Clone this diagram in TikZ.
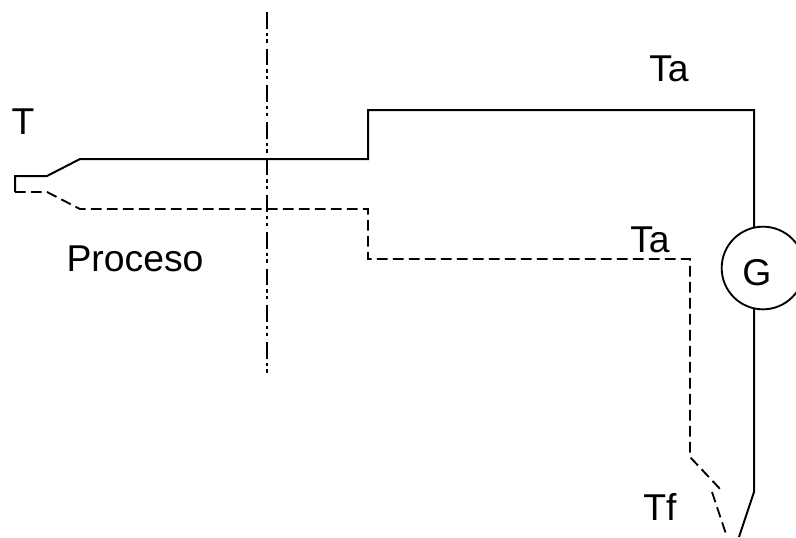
\documentclass[tikz,border=0pt]{standalone}
\usepackage{fontspec}
\setmainfont{Liberation Sans}
\usetikzlibrary{positioning}

\begin{document}
\begin{tikzpicture}[
x=0.75pt, y=-0.75pt,
wire/.style={draw=black, line width=1.5pt, line join=miter},
return/.style={draw=black, line width=1.4pt, dash pattern=on 8pt off 4pt},
axisline/.style={draw=black, line width=1.5pt, dash pattern=on 12.5pt off 3pt on 2.5pt off 2.5pt on 2.5pt off 4.5pt},
label/.style={font=\fontsize{28}{32}\selectfont, inner sep=0pt, text=black},
gauge/.style={circle, draw=black, line width=1.4pt, minimum size=62pt, inner sep=0pt}
]
\useasboundingbox (0,0) rectangle (796,537);

\node[gauge](g_meter) at (763,268){};

\node[label](g_text) at (757,273){G};
\node[label](t_hot) at (23,122){T};
\node[label](ta_top) at (669,69){Ta};
\node[label](ta_mid) at (650,240){Ta};
\node[label](tf_end) at (660,507){Tf};
\node[label](proc) at (135,259){Proceso};

\coordinate (axis_top) at (267,12);
\coordinate (axis_bot) at (267,375);
\coordinate (tip_up) at (15,176);
\coordinate (tip_low) at (15,192);
\coordinate (wire_end) at (739,537);
\coordinate (ret_end) at (727,537);

\draw[axisline] (axis_top) -- (axis_bot);

\draw[wire] (754,227) -- (754,110) -- (368,110) -- (368,159) -- (80,159) -- (47,176) -- (tip_up) -- (tip_low);
\draw[wire] (754,309) -- (754,492) -- (wire_end);

\draw[return] (tip_low) -- (47,192) -- (80,209) -- (368,209) -- (368,259) -- (690,259) -- (690,457) -- (722,491);
\draw[return] (712,492) -- (ret_end);
\end{tikzpicture}
\end{document}
